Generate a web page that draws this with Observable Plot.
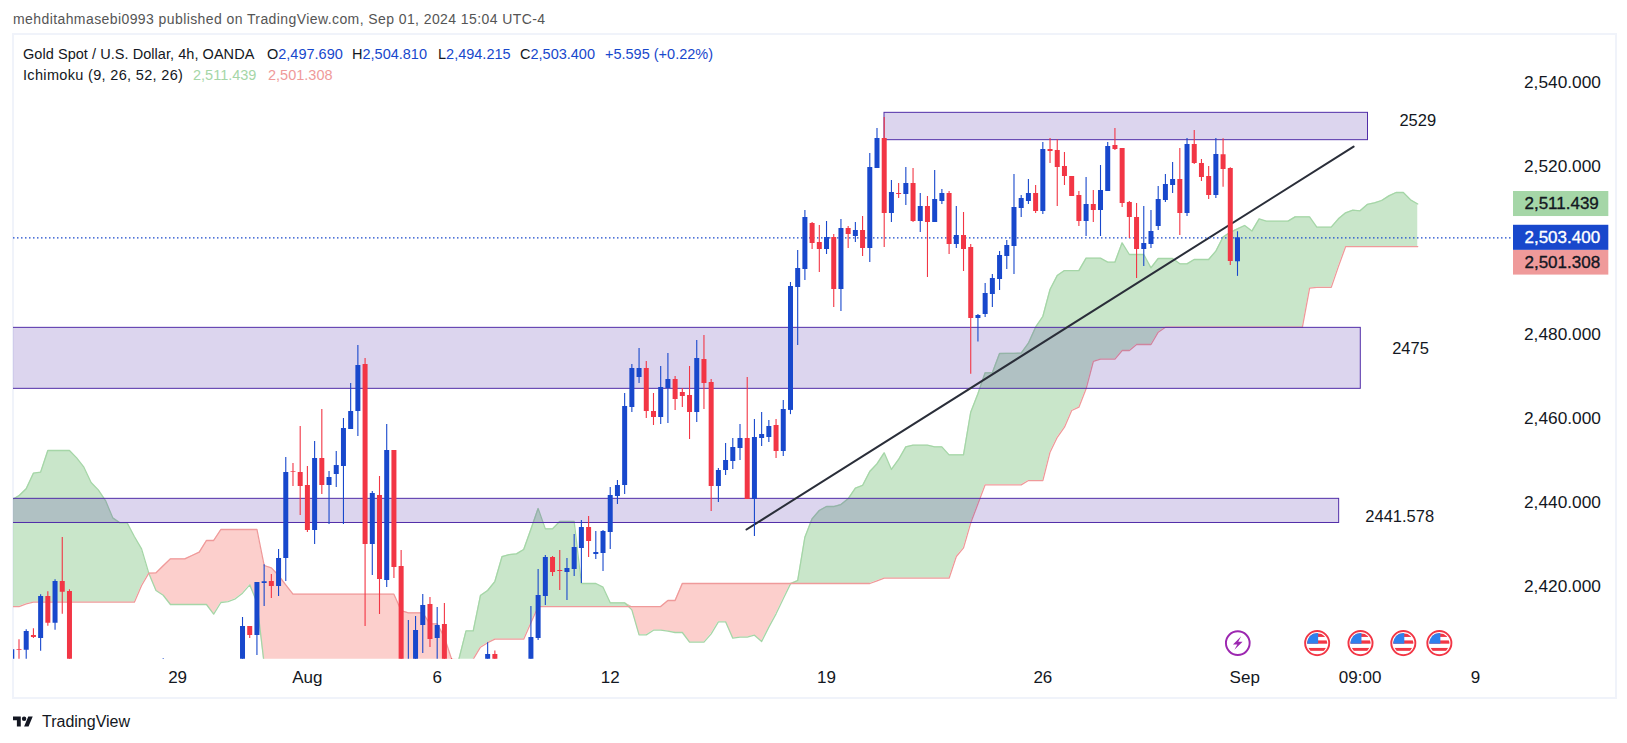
<!DOCTYPE html>
<html><head><meta charset="utf-8">
<script src="https://cdn.jsdelivr.net/npm/d3@7"></script>
<script src="https://cdn.jsdelivr.net/npm/@observablehq/plot@0.6"></script>
<style>
html,body{margin:0;padding:0;background:#fff;width:1627px;height:743px;overflow:hidden;font-family:"Liberation Sans",sans-serif}
#page{position:relative;width:1627px;height:743px}
#pub{position:absolute;left:13px;top:11px;font-size:14px;color:#555;white-space:nowrap;letter-spacing:.41px}
#chart{position:absolute;left:12px;top:33px;width:1605px;height:666px;outline:2px solid #f0f3fa;outline-offset:-2px}
#chart svg{display:block;position:absolute;left:0;top:0}
.leg{position:absolute;font-size:14.5px;color:#131722;white-space:nowrap;top:0;line-height:18px}
.b{color:#1848cc}.g{color:#a5d6a7}.r{color:#ef9a9a}
#foot{position:absolute;left:13px;top:713px;height:18px;display:flex;align-items:center;font-size:16px;color:#131722}
</style></head><body>
<div id="page">
  <div id="pub">mehditahmasebi0993 published on TradingView.com, Sep 01, 2024 15:04 UTC-4</div>
  <div id="chart"></div>
  <div class="leg" style="left:23px;top:45px;letter-spacing:.05px">Gold Spot / U.S. Dollar, 4h, OANDA</div>
  <div class="leg" style="left:267px;top:45px">O<span class="b">2,497.690</span></div>
  <div class="leg" style="left:352px;top:45px">H<span class="b">2,504.810</span></div>
  <div class="leg" style="left:438px;top:45px">L<span class="b">2,494.215</span></div>
  <div class="leg" style="left:520px;top:45px">C<span class="b">2,503.400</span></div>
  <div class="leg b" style="left:605px;top:45px">+5.595 (+0.22%)</div>
  <div class="leg" style="left:23px;top:66px;letter-spacing:.33px">Ichimoku (9, 26, 52, 26)</div>
  <div class="leg g" style="left:193px;top:66px">2,511.439</div>
  <div class="leg r" style="left:268px;top:66px">2,501.308</div>
  <div id="foot"><svg width="20" height="16" viewBox="0 0 36 28" style="margin-right:9px"><path fill="#131722" d="M14 22H7V11H0V4h14v18zM28 22h-8l7.5-18h8L28 22z"/><circle fill="#131722" cx="20" cy="8" r="4"/></svg>TradingView</div>
</div>
<script>
// candles: bar number, open, high, low, close (U.S. dollars)
const barIdx = [-1, ...d3.range(0, 8), 20, ...d3.range(31, 61), 65, 66, ...d3.range(71, 170)];
const open = [2400,
 2405.37,2405.22,2408.71,2407.99,2417.99,2411.65,2421.56,2419.18,
 2395,
 2398,2410.85,2408.71,2421.09,2421.56,2420.37,2427.04,2447.68,2447.52,2444.42,
 2433.71,2450.85,2444.42,2447.04,2448.95,2457.76,2462.04,2473.23,2430.38,2442.04,
 2421.8,2452.76,2425.14,2395,2398,2411.09,2416.09,2407.99,2411.33,2402,
 2400,2404.2,
 2402,2407.99,2417.99,2427.28,2424.18,2423.71,2424.42,2429.42,2434.42,2427.99,
 2428.23,2433.23,2441.8,2444.42,2462.99,2470.14,2472.28,2462.04,2460.61,2467.52,
 2469.66,2466.57,2465.85,2461.8,2474.42,2468.95,2444.18,2447.99,2450.14,2453.23,
 2455.61,2441.09,2455.61,2455.85,2458.71,2452.52,2462.3,2491.57,2495.85,2506.8,
 2502.28,2500.61,2503.47,2491.09,2505.61,2503.71,2505.14,2500.85,2519.9,2527.04,
 2509.19,2513.95,2513.71,2516.33,2507.28,2510.85,2507.04,2512.04,2513.95,2501.8,
 2503.95,2501.09,2484.19,2485.14,2489.9,2493.47,2498.95,2501.33,2510.38,2512.04,
 2513.95,2509.66,2524.42,2524.19,2520.38,2517.99,2513.47,2507.28,2511.33,2509.9,
 2514.42,2525.38,2524.66,2511.8,2508.23,2500.61,2501.8,2506.09,2512.28,2515.85,
 2517.28,2509.19,2525.61,2521.09,2517.99,2513.47,2523.2,2519.9,2497.69];
const high = [2406,
 2407.68,2410.06,2410.3,2418.39,2419.1,2421.96,2432.04,2419.58,
 2403.23,
 2412.99,2410.85,2421.33,2425.53,2423.23,2429.18,2451.09,2449.66,2458.47,2448.95,
 2454.9,2462.52,2447.76,2452.52,2460.37,2468.71,2477.76,2474.66,2443,2446.57,
 2458.95,2452.76,2428.95,2412.28,2413.23,2418.47,2417.76,2415.38,2416.33,2403.23,
 2407,2405,
 2415.61,2424.42,2427.76,2427.52,2428.95,2427.04,2432.76,2436.09,2437.04,2433.47,
 2433.71,2443.95,2445.61,2466.33,2473.23,2477.04,2473.95,2466.33,2472.76,2475.85,
 2470.38,2467.52,2472.76,2478.95,2480.14,2469.66,2448.47,2454.42,2455.61,2458.95,
 2470.14,2460.14,2461.8,2459.9,2460.14,2464.66,2492.76,2500.38,2509.9,2507.04,
 2506.33,2507.28,2504.19,2507.76,2506.09,2507.04,2508.47,2523.47,2529.42,2532.04,
 2517.04,2516.33,2520.14,2519.9,2513.95,2513.23,2519.42,2514.9,2514.42,2510.85,
 2509.42,2501.8,2485.14,2492.52,2494.66,2500.14,2502.76,2518.47,2513.47,2517.28,
 2515.85,2526.09,2527.04,2526.72,2523.71,2517.99,2514.42,2517.76,2514.66,2520.61,
 2526.09,2529.42,2524.66,2512.04,2511.57,2510.85,2509.9,2515.61,2518.47,2521.33,
 2524.66,2527.04,2528.95,2522.04,2520.38,2527.04,2526.96,2520.1,2504.81];
const low = [2398,
 2401.96,2402.36,2407.99,2404.98,2410.93,2409.98,2413.79,2392,
 2392,
 2395,2407.99,2403.95,2415.61,2417.52,2417.99,2421.56,2444.18,2437.28,2433.23,
 2430.38,2442.28,2435.14,2443.95,2435.14,2457.76,2456.09,2410.85,2423,2413.71,
 2420.14,2422.28,2390,2390,2394,2404.42,2405.85,2402.36,2398,2396,
 2398,2398,
 2400,2407.52,2415.85,2422.76,2419.42,2417.04,2422.76,2421.09,2427.28,2426.8,
 2423.95,2429.18,2439.9,2442.28,2461.8,2468.71,2460.37,2458.71,2458.95,2459.18,
 2462.28,2462.99,2455.38,2459.42,2462.52,2438.23,2440.38,2446.8,2448.23,2450.38,
 2441.09,2432.28,2453.71,2454.66,2450.85,2451.33,2461.3,2477.76,2493.23,2500.61,
 2495.14,2499.42,2486.8,2485.85,2500.85,2502.28,2498.95,2497.52,2519.9,2501.09,
 2507.04,2512.76,2511.09,2507.04,2504.66,2493.95,2507.04,2511.33,2499.42,2500.85,
 2495.38,2470.9,2478.6,2484.42,2486.8,2490.85,2495.85,2494.66,2508.23,2511.33,
 2509.19,2508.95,2521.09,2510.85,2515.85,2513.23,2506.09,2503.71,2507.04,2503.71,
 2514.42,2524.19,2510.61,2503.23,2493.71,2496.57,2500.85,2505.14,2511.8,2513.95,
 2503.95,2508.47,2520.85,2516.8,2512.52,2512.76,2515.45,2496.8,2494.215];
const close = [2405.3,
 2405.22,2409.66,2408.23,2417.99,2411.65,2421.56,2419.03,2396,
 2398,
 2410.85,2408.71,2421.33,2421.49,2420.37,2427.04,2447.52,2447.52,2444.18,2433.71,
 2450.85,2444.42,2446.33,2449.18,2457.99,2462.04,2472.99,2430.38,2442.52,2422.04,
 2452.76,2424.9,2395,2402,2409.9,2415.85,2407.76,2411.09,2400,2398,
 2404.2,2400,
 2408.23,2418.23,2427.28,2423.71,2423.95,2424.66,2429.66,2434.42,2431.09,2428.47,
 2433.47,2442.04,2444.42,2463.23,2472.28,2472.28,2462.04,2460.61,2467.76,2469.66,
 2464.9,2465.61,2461.8,2474.66,2468.71,2444.18,2447.99,2450.38,2453.47,2455.61,
 2441.09,2455.85,2456.57,2458.47,2452.52,2462.52,2491.8,2496.09,2508.23,2502.04,
 2500.61,2503.47,2491.09,2505.61,2504.19,2505.14,2500.85,2520.14,2527.04,2509.19,
 2514.19,2513.71,2516.33,2507.28,2510.85,2507.04,2512.52,2513.95,2501.8,2503.95,
 2500.61,2484.19,2484.9,2490.14,2493.71,2499.19,2501.57,2510.61,2512.76,2513.95,
 2509.66,2524.42,2523.95,2520.14,2517.99,2513.23,2507.28,2511.33,2509.9,2514.66,
 2525.14,2524.42,2511.57,2508.23,2500.61,2502.04,2504.9,2512.52,2516.09,2517.28,
 2509.19,2525.61,2521.09,2517.76,2513.47,2523.23,2519.66,2497.75,2503.4];

// Ichimoku leading spans, first value at bar -1
const cloudStart = -1;
const spanA = [2441,2442,2443.63,2447.36,2447.6,2452.76,2452.76,2452.76,2452.76,2451,
 2448.79,2445.14,2443.39,2440.85,2436.72,2435.53,2435.53,2432.28,2429.34,2423.55,
 2419.42,2418.3,2416.09,2416.09,2416.09,2416.09,2416.09,2416.09,2413.79,2416.57,
 2416.8,2417.44,2418.79,2420.77,2416.6,2401.96,
 2398,2398,2398,2398,2398,2398,2398,2398,2398,2398,2398,2398,2398,
 2398,2398,2398,2398,2398,2398,2398,2398,2398,2398,2398,2398,2398,
 2403,2409.8,2409.8,2418.23,2419.42,2421.56,2427.52,2427.99,2428.15,2429.18,
 2434.03,2438.95,2434.1,2434.1,2435.85,2435.85,2435.85,2421.09,2421.09,2421.09,
 2420.22,2416.49,2416.49,2416.49,2414.82,2408.87,2408.87,2409.98,2409.98,2409.74,
 2409.43,2409.43,2407.13,2407.13,2407.13,2409.11,2411.97,2411.97,2408.08,2408.32,
 2408.32,2408.79,2407.28,2410.7,2413.87,2417.44,2421.01,2421.8,2432.13,2436.49,
 2438.47,2439.42,2439.42,2439.9,2441.25,2443.79,2444.43,2447.76,2449.58,2452.2,
 2448.24,2450.62,2453.63,2454.03,2454.03,2454.03,2453.63,2453.63,2451.73,2451.73,
 2451.73,2461.89,2466.25,2471.25,2471.25,2475.85,2475.9,2475.9,2475.93,2478.31,
 2482.12,2484.66,2491.09,2494.42,2495.6,2495.6,2495.6,2498.55,2498.55,2498.55,
 2497.6,2497.6,2502.2,2499.42,2499.42,2499.42,2496.25,2498.47,2498.47,2498.47,
 2497.2,2497.2,2498.23,2498.23,2498.23,2500.22,2503.6,2504.7,2505.54,2506.33,
 2505,2507.9,2507.36,2507.36,2507.36,2507.36,2508.39,2508.39,2508.39,2505.93,
 2505.93,2505.93,2507.91,2509.34,2509.98,2509.82,2511.33,2511.72,2512.28,2513.39,
 2514.18,2514.18,2512.44,2511.44];
const spanB = [2415.61,2415.61,2416.25,
 2416.65,2416.65,2416.65,2416.65,2416.65,2416.65,2416.65,2416.65,2416.65,2416.65,2416.65,2416.65,2416.65,2416.65,2416.65,
 2420.61,2423.55,2423.63,2425.3,2426.96,2426.96,2426.96,2427.76,2428.55,2431.33,2431.33,
 2433.95,2433.95,2433.95,2433.95,2433.95,2433.95,
 2425.38,2424.82,2423,2420.77,
 2418.55,2418.55,2418.55,2418.55,2418.55,2418.55,2418.55,2418.55,2418.55,2418.55,2418.55,2418.55,2418.55,2418.55,2418.55,
 2414.66,2414.1,2414.1,2414.1,2411.48,2411.48,2408.31,2403.07,2400,2401,2403.07,2405.93,2407,
 2407.84,2407.84,2407.84,2407.84,2407.84,2411.73,
 2415.61,2415.61,2415.61,2415.61,2415.61,2415.61,2415.61,2415.61,2415.61,2415.61,2415.61,2415.61,2415.61,2415.61,2415.61,2415.61,2415.61,2415.61,
 2417.04,2417.04,
 2421.09,2421.09,2421.09,2421.09,2421.09,2421.09,2421.09,2421.09,2421.09,2421.09,2421.09,2421.09,2421.09,2421.09,
 2421.09,2421.09,2421.09,2421.09,2421.09,2421.09,2421.09,2421.09,2421.09,2421.09,2421.09,2421.09,2421.09,
 2421.73,
 2422.36,2422.36,2422.36,2422.36,2422.36,2422.36,2422.36,2422.36,2422.36,2422.36,
 2427.52,2429.58,2435.54,2440.06,
 2444.58,2444.58,2444.58,2444.58,2444.58,2444.58,
 2445.6,2445.6,2445.6,2452.36,2455.9,2458.32,2462.28,2463.08,2467.44,2473.95,
 2474.5,2474.5,2474.5,2476.57,2476.57,2478,2478,2478,2480.93,
 2482.12,2482.12,2482.12,2482.12,2482.12,2482.12,2482.12,2482.12,2482.12,2482.12,
 2482.12,2482.12,2482.12,2482.12,2482.12,2482.12,2482.12,2482.12,2482.12,2482.12,
 2491.41,2491.6,2491.6,2491.6,2496.6,
 2501.31,2501.31,2501.31,2501.31,2501.31,2501.31,2501.31,2501.31,2501.31,2501.31,2501.31];

// drawn zones: first bar, last bar, top price, bottom price
const zoneStart = [120.04, -2, -2];
const zoneEnd   = [187.1, 186.1, 183.1];
const zoneTop   = [2533.15, 2481.96, 2441.25];
const zoneBot   = [2526.64, 2467.44, 2435.5];
// drawn trend line
const trendBars = [100.9, 185.1];
const trendPrices = [2433.95, 2525.1];
// zone notes
const noteTexts = ["2529", "2475", "2441.578"];
const noteBars = [194, 193, 191.5];
const notePrices = [2531.3, 2476.9, 2437.1];
// axes
const priceTicks = [2420, 2440, 2460, 2480, 2520, 2540];
const timeTickBars = [22, 40, 58, 82, 112, 142, 170, 186, 202];
const timeTickLabels = ["29", "Aug", "6", "12", "19", "26", "Sep", "09:00", "9"];
// last-value tags: box centre price, label
const tagCentres = [2511.44, 2497.5, 2503.4];
const tagTexts = ["2,511.439", "2,501.308", "2,503.400"];
const tagFills = ["#a5d6a7", "#ef9a9a", "#1848cc"];
const tagInks = ["#131722", "#131722", "#ffffff"];
// economic events along the bottom
const eventBars = [169.04, 180.05, 186.06, 192, 197];
const eventPrice = 2406.9;
const eventKinds = ["bolt", "us", "us", "us", "us"];

const UP = "#1848cc", DOWN = "#f23645";
const candles = barIdx.map((b, i) => ({b, o: open[i], h: high[i], l: low[i], c: close[i]}));
const colorOf = d => d.c >= d.o ? UP : DOWN;
const cloud = spanA.map((a, i) => ({b: cloudStart + i, a, s: spanB[i], top: Math.max(a, spanB[i])}));
const zones = zoneStart.map((s, i) => ({s, e: zoneEnd[i], t: zoneTop[i], u: zoneBot[i]}));
const notes = noteTexts.map((t, i) => ({t, b: noteBars[i], p: notePrices[i]}));
const tags = tagTexts.map((t, i) => ({t, c: tagCentres[i], f: tagFills[i], k: tagInks[i]}));

const svgURI = s => "data:image/svg+xml," + encodeURIComponent(s);
const icons = {
  bolt: svgURI('<svg xmlns="http://www.w3.org/2000/svg" viewBox="0 0 28 28"><circle cx="14" cy="14" r="12.3" fill="#fff" stroke="#9c27b0" stroke-width="2"/><path d="M17.5 7 9 15.5h4.5L10.5 21 19 12.5h-4.5z" fill="#9c27b0"/></svg>'),
  us: svgURI('<svg xmlns="http://www.w3.org/2000/svg" viewBox="0 0 28 28"><defs><clipPath id="c"><circle cx="14" cy="14" r="10.5"/></clipPath></defs><circle cx="14" cy="14" r="12.5" fill="#fff" stroke="#f23645" stroke-width="2"/><g clip-path="url(#c)"><rect x="3" y="3" width="22" height="22" fill="#fff"/><rect x="3" y="4" width="22" height="3.6" fill="#f23645"/><rect x="3" y="11.2" width="22" height="3.4" fill="#f23645"/><rect x="3" y="19" width="22" height="3" fill="#f23645"/><rect x="3" y="3" width="12" height="11.6" fill="#2f80ed"/></g></svg>')
};
const events = eventBars.map((b, i) => ({b, src: icons[eventKinds[i]]}));

const plot = Plot.plot({
  width: 1605, height: 666,
  marginLeft: 1, marginRight: 104, marginTop: 1, marginBottom: 40.3,
  style: {fontFamily: '"Liberation Sans",sans-serif', background: "transparent", overflow: "visible"},
  x: {type: "linear", domain: [-0.763, 207.28], label: null},
  y: {type: "linear", domain: [2403.07, 2551.8], label: null},
  marks: [
    // cloud
    Plot.areaY(cloud, {x: "b", y1: "s", y2: "top", fill: "#a5d6a7", fillOpacity: 0.6, clip: true}),
    Plot.areaY(cloud, {x: "b", y1: "a", y2: "top", fill: "#f9a09a", fillOpacity: 0.5, clip: true}),
    Plot.line(cloud, {x: "b", y: "a", stroke: "#a5d6a7", strokeWidth: 1.3, clip: true}),
    Plot.line(cloud, {x: "b", y: "s", stroke: "#ef9a9a", strokeWidth: 1.3, clip: true}),
    // zones
    Plot.rect(zones, {x1: "s", x2: "e", y1: "u", y2: "t", fill: "#512da8", fillOpacity: 0.2, stroke: "#512da8", strokeWidth: 1, clip: true}),
    // trend line
    Plot.line(trendBars.map((b, i) => ({b, p: trendPrices[i]})), {x: "b", y: "p", stroke: "#2a2e39", strokeWidth: 2}),
    // last-price line
    Plot.ruleY([2503.4], {stroke: "#1848cc", strokeWidth: 1.2, strokeDasharray: "1.5,2.5"}),
    // candles
    Plot.ruleX(candles, {x: "b", y1: "l", y2: "h", stroke: colorOf, strokeWidth: 1.1, clip: true}),
    Plot.ruleX(candles, {x: "b", y1: "o", y2: "c", stroke: colorOf, strokeWidth: 5, clip: true}),
    // notes
    Plot.text(notes, {x: "b", y: "p", text: "t", fontSize: 16.5, fill: "#131722"}),
    // axes
    Plot.axisY({anchor: "right", ticks: priceTicks, tickSize: 0, tickPadding: 10.5, dy: -2, tickFormat: d3.format(",.3f"), fontSize: 17.3, fill: "#131722", label: null}),
    Plot.axisX({anchor: "bottom", ticks: timeTickBars, tickSize: 0, tickPadding: 12, tickFormat: d => timeTickLabels[timeTickBars.indexOf(d)], fontSize: 17, fill: "#131722", label: null}),
    // tags
    Plot.rect(tags, {x1: 207.28, x2: 220.5, y1: d => d.c - 2.98, y2: d => d.c + 2.98, fill: "f"}),
    Plot.text(tags, {x: 208.8, y: "c", text: "t", fill: "k", stroke: "k", strokeWidth: 0.35, textAnchor: "start", fontSize: 17}),
    // events
    Plot.image(events, {x: "b", y: () => eventPrice, src: "src", width: 27, height: 27})
  ]
});
document.getElementById("chart").appendChild(plot);
</script>
</body></html>
